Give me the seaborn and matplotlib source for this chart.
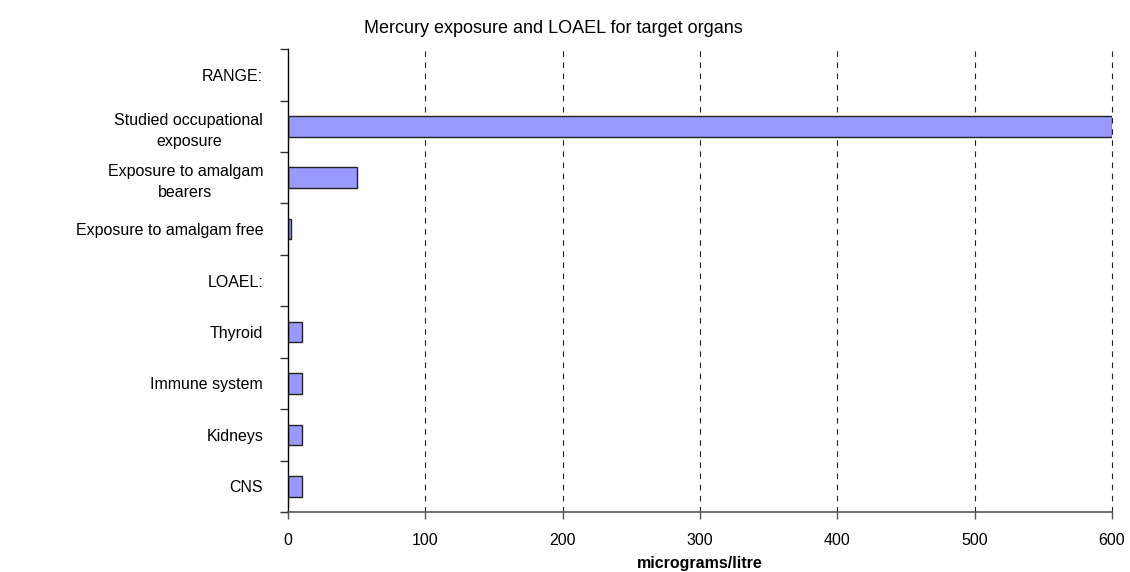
import numpy as np
import pandas as pd
import matplotlib
matplotlib.use("Agg")
import matplotlib.pyplot as plt
import seaborn as sns

# categories top to bottom; header rows have no value
categories = ["RANGE:", "Studied occupational\nexposure", "Exposure to amalgam\nbearers",
              "Exposure to amalgam free", "LOAEL:", "Thyroid", "Immune system",
              "Kidneys", "CNS"]
values = [np.nan, 600, 50, 2, np.nan, 10, 10, 10, 10]
xticks = [0, 100, 200, 300, 400, 500, 600]

df = pd.DataFrame({"label": categories, "value": values})

sns.set_style("white", {"xtick.bottom": True, "ytick.left": True,
                        "text.color": "black", "axes.labelcolor": "black",
                        "xtick.color": "black", "ytick.color": "black"})
plt.rcParams["font.family"] = ["Liberation Sans", "DejaVu Sans"]

fig = plt.figure(figsize=(11.3, 5.72), dpi=100)
ax = fig.add_axes([0.255, 0.105, 0.729, 0.809])

sns.barplot(data=df, x="value", y="label", order=categories, orient="h",
            color="#9999ff", edgecolor="#222222", linewidth=1, width=0.4,
            saturation=1, ax=ax)

ax.set_xlim(0, 600)
ax.set_ylim(len(categories) - 0.5, -0.5)
ax.set_xticks(xticks)
ax.set_xticklabels([str(t) for t in xticks], fontsize=11.5)
ax.tick_params(axis="x", direction="out", length=5, width=1, color="#555555",
               labelcolor="black", pad=10)

# category labels without ticks, ticks between categories
ax.set_yticks(range(len(categories)))
ax.set_yticklabels(categories, fontsize=11.5, linespacing=1.5, ha="right",
                   multialignment="center")
ax.tick_params(axis="y", which="major", length=0, pad=18, labelcolor="black")
ax.set_yticks(np.arange(-0.5, len(categories), 1), minor=True)
ax.tick_params(axis="y", which="minor", direction="out", length=6, width=1,
               color="#333333", left=True)

for x in xticks[1:]:
    ax.axvline(x, color="#222222", linestyle=(0, (5, 5)), linewidth=0.8, zorder=0,
               clip_on=False)

sns.despine(ax=ax, top=True, right=True)
ax.spines["left"].set_color("black")
ax.spines["bottom"].set_color("#555555")
ax.spines["left"].set_linewidth(1)
ax.spines["bottom"].set_linewidth(1.2)

ax.set_ylabel("")
ax.set_xlabel("micrograms/litre", fontsize=11.5, fontweight="bold", labelpad=6,
              color="black")

fig.text(0.49, 0.95, "Mercury exposure and LOAEL for target organs",
         ha="center", va="center", fontsize=13, color="black")

fig.savefig("out.png", dpi=100)
